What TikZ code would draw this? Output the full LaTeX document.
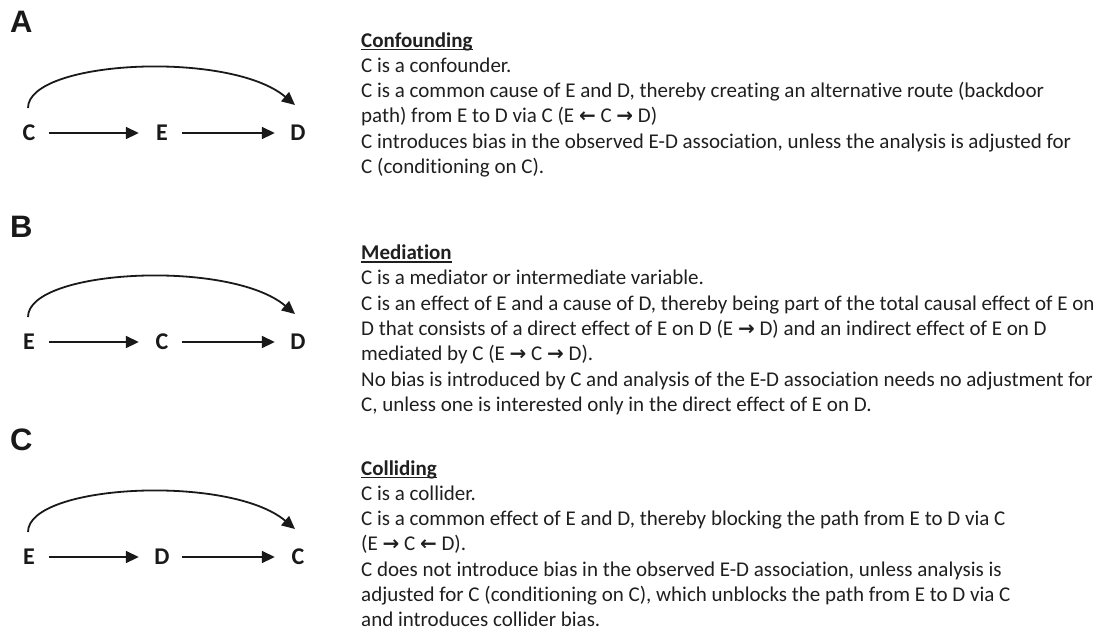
\documentclass[tikz,border=0pt]{standalone}
\usepackage{fontspec}
\setmainfont[Ligatures=NoCommon]{Carlito}
\newfontfamily\lblfont{Liberation Sans}
\newfontfamily\arrfont{DejaVu Sans}
\usetikzlibrary{arrows.meta,calc}
\newcommand\myul[1]{\setbox0\hbox{#1}\rlap{\rule[-3pt]{\wd0}{1.5pt}}\box0}
\newcommand\rarr{{\arrfont\bfseries\fontsize{20}{20}\selectfont →}}
\newcommand\larr{{\arrfont\bfseries\fontsize{20}{20}\selectfont ←}}
\begin{document}
\begin{tikzpicture}[x=1pt,y=-1pt,
  txt/.style={inner sep=0pt, anchor=base west, text=black!88, font=\fontsize{21}{25.3}\selectfont},
  hdr/.style={txt, font=\bfseries\fontsize{21}{25.3}\selectfont},
  lbl/.style={inner sep=0pt, anchor=base west, text=black!90, font=\lblfont\bfseries\fontsize{31}{31}\selectfont},
  var/.style={inner sep=0pt, minimum width=40pt, text=black!90, font=\bfseries\fontsize{24}{24}\selectfont},
  arr/.style={line width=1.8pt, black!90, -{Triangle[length=13pt,width=12pt]}, shorten >=3pt},
  carr/.style={line width=1.8pt, black!90, -{Triangle[length=13pt,width=12pt]}}]
\useasboundingbox (0,0) rectangle (1103,633);

% ---------- Panel A ----------
\node[lbl] (lA) at (10,32) {A};
\node[var] (a1) at (29,133) {C};
\node[var] (a2) at (162,133) {E};
\node[var] (a3) at (298,133) {D};
\draw[arr] (a1) -- (a2);
\draw[arr] (a2) -- (a3);
\draw[carr] ($(a1)+(-1,-25)$) .. controls ($(a1)+(-1,-73)$) and ($(a3)+(-68,-83)$) .. ($(a3)+(-3,-28)$);

\node[hdr] (ta0) at (361,47) {\myul{Confounding}};
\node[txt] (ta1) at (361,72.3) {C is a confounder.};
\node[txt] (ta2) at (361,97.6) {C is a common cause of E and D, thereby creating an alternative route (backdoor};
\node[txt] (ta3) at (361,122.9) {path) from E to D via C (E \larr{} C \rarr{} D)};
\node[txt] (ta4) at (361,148.2) {C introduces bias in the observed E-D association, unless the analysis is adjusted for};
\node[txt] (ta5) at (361,173.5) {C (conditioning on C).};

% ---------- Panel B ----------
\node[lbl] (lB) at (10,237) {B};
\node[var] (b1) at (29,342) {E};
\node[var] (b2) at (162,342) {C};
\node[var] (b3) at (298,342) {D};
\draw[arr] (b1) -- (b2);
\draw[arr] (b2) -- (b3);
\draw[carr] ($(b1)+(-1,-25)$) .. controls ($(b1)+(-1,-73)$) and ($(b3)+(-68,-83)$) .. ($(b3)+(-3,-28)$);

\node[hdr] (tb0) at (361,259.5) {\myul{Mediation}};
\node[txt] (tb1) at (361,284.8) {C is a mediator or intermediate variable.};
\node[txt] (tb2) at (361,310.1) {C is an effect of E and a cause of D, thereby being part of the total causal effect of E on};
\node[txt] (tb3) at (361,335.4) {D that consists of a direct effect of E on D (E \rarr{} D) and an indirect effect of E on D};
\node[txt] (tb4) at (361,360.7) {mediated by C (E \rarr{} C \rarr{} D).};
\node[txt] (tb5) at (361,386.0) {No bias is introduced by C and analysis of the E-D association needs no adjustment for};
\node[txt] (tb6) at (361,411.3) {C, unless one is interested only in the direct effect of E on D.};

% ---------- Panel C ----------
\node[lbl] (lC) at (10,450) {C};
\node[var] (c1) at (29,557) {E};
\node[var] (c2) at (162,557) {D};
\node[var] (c3) at (298,557) {C};
\draw[arr] (c1) -- (c2);
\draw[arr] (c2) -- (c3);
\draw[carr] ($(c1)+(-1,-25)$) .. controls ($(c1)+(-1,-73)$) and ($(c3)+(-68,-83)$) .. ($(c3)+(-3,-28)$);

\node[hdr] (tc0) at (361,475) {\myul{Colliding}};
\node[txt] (tc1) at (361,500.3) {C is a collider.};
\node[txt] (tc2) at (361,525.6) {C is a common effect of E and D, thereby blocking the path from E to D via C};
\node[txt] (tc3) at (361,550.9) {(E \rarr{} C \larr{} D).};
\node[txt] (tc4) at (361,576.2) {C does not introduce bias in the observed E-D association, unless analysis is};
\node[txt] (tc5) at (361,601.5) {adjusted for C (conditioning on C), which unblocks the path from E to D via C};
\node[txt] (tc6) at (361,626.8) {and introduces collider bias.};
\end{tikzpicture}
\end{document}
